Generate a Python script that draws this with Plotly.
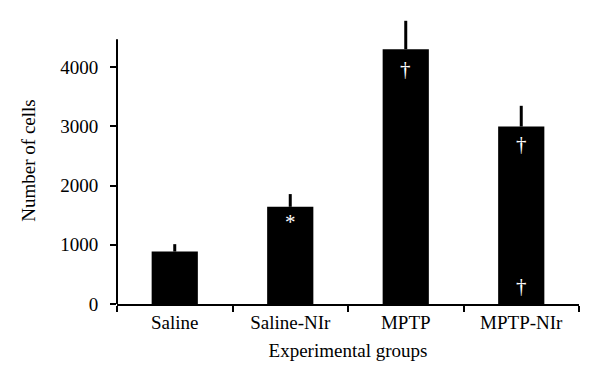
import plotly.graph_objects as go

categories = ["Saline", "Saline-NIr", "MPTP", "MPTP-NIr"]
values = [885, 1640, 4300, 2995]
errors = [125, 215, 480, 350]

mark_cats = ["Saline-NIr", "MPTP", "MPTP-NIr", "MPTP-NIr"]
mark_y = [1380, 3960, 2700, 300]
mark_text = ["*", "†", "†", "†"]

yticks = [0, 1000, 2000, 3000, 4000]
y_axis_top = 4470
y_view_top = 4844

FONT = "Liberation Serif"
FS = 19

fig = go.Figure()
fig.add_trace(go.Bar(
    x=categories, y=values, width=0.4,
    marker=dict(color="black", line=dict(width=0)),
    error_y=dict(type="data", array=errors, arrayminus=[0]*len(errors),
                 symmetric=False, color="black", thickness=3, width=0),
))

for c, yv, t in zip(mark_cats, mark_y, mark_text):
    fig.add_annotation(x=c, y=yv, text=t, showarrow=False,
                       font=dict(family=FONT, size=21, color="white"))

# visible y-axis line stops below the top of the view (as in the reference)
fig.add_shape(type="line", xref="paper", yref="y", x0=0, x1=0,
              y0=0, y1=y_axis_top, line=dict(color="black", width=2))

fig.update_layout(
    width=600, height=381,
    margin=dict(l=117, r=21, t=17, b=77),
    plot_bgcolor="white", paper_bgcolor="white",
    showlegend=False,
    font=dict(family=FONT, size=FS, color="black"),
)
fig.update_xaxes(
    type="category", range=[-0.5, 3.5], tickson="boundaries",
    showline=True, linecolor="black", linewidth=2,
    ticks="outside", ticklen=6, tickwidth=1.5, tickcolor="black",
    showgrid=False, zeroline=False, automargin=False,
    title=dict(text="Experimental groups", standoff=12, font=dict(size=FS)),
    tickfont=dict(size=FS),
)
fig.update_yaxes(
    range=[0, y_view_top], tickvals=yticks, ticktext=[str(v) for v in yticks],
    showline=False,
    ticks="outside", ticklen=6, tickwidth=1.5, tickcolor="black",
    showgrid=False, zeroline=False, ticklabelstandoff=8, automargin=False,
    title=dict(text="Number of cells", standoff=19, font=dict(size=FS)),
    tickfont=dict(size=FS),
)

fig.write_html("out.html", config={"displayModeBar": False},
               post_script="document.body.style.margin='0';")
